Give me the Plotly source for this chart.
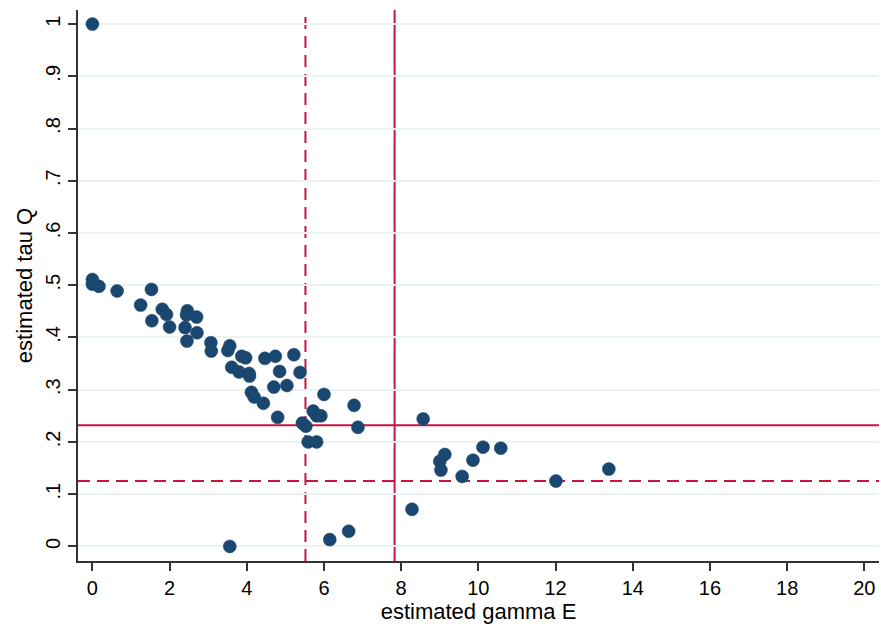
import plotly.graph_objects as go

gamma_e = [0.0, 0.0, 0.0, 0.17, 0.64, 1.25, 1.53, 1.54, 1.81, 1.92, 2.0, 2.46, 2.44,
           2.70, 2.40, 2.71, 2.45, 3.07, 3.08, 3.56, 3.51, 3.87, 3.97, 4.47, 4.74,
           5.22, 3.61, 3.80, 4.06, 4.07, 4.85, 5.38, 4.70, 5.04, 4.12, 4.19, 4.43,
           4.80, 5.44, 5.53, 5.59, 5.81, 5.72, 5.81, 5.92, 6.00, 6.78, 6.88, 8.57,
           8.28, 6.64, 6.15, 3.56, 9.00, 9.03, 9.13, 9.58, 9.86, 10.12, 10.58,
           12.01, 13.38]
tau_q = [1.0, 0.511, 0.502, 0.498, 0.489, 0.462, 0.492, 0.432, 0.454, 0.444, 0.420,
         0.451, 0.443, 0.439, 0.419, 0.409, 0.393, 0.390, 0.374, 0.384, 0.375, 0.364,
         0.361, 0.360, 0.364, 0.367, 0.343, 0.334, 0.331, 0.326, 0.335, 0.333, 0.305,
         0.308, 0.295, 0.286, 0.274, 0.247, 0.236, 0.230, 0.200, 0.200, 0.259, 0.250,
         0.250, 0.291, 0.270, 0.228, 0.244, 0.071, 0.029, 0.013, 0.0, 0.163, 0.146,
         0.176, 0.134, 0.165, 0.190, 0.188, 0.125, 0.148]

vline_dashed = 5.52
vline_solid = 7.83
hline_solid = 0.232
hline_dashed = 0.125

x_ticks = [0, 2, 4, 6, 8, 10, 12, 14, 16, 18, 20]
y_ticks = [0, 0.1, 0.2, 0.3, 0.4, 0.5, 0.6, 0.7, 0.8, 0.9, 1.0]
y_ticklabels = ["0", ".1", ".2", ".3", ".4", ".5", ".6", ".7", ".8", ".9", "1"]

navy = "#1a476f"
red = "#c8153f"
font = "Liberation Sans, Arial, sans-serif"

fig = go.Figure()
fig.add_trace(go.Scatter(
    x=gamma_e, y=tau_q, mode="markers",
    marker=dict(size=13, color=navy, line=dict(width=0.5, color=navy)),
    hoverinfo="x+y", showlegend=False,
))

dash = "12px,7px"
fig.add_shape(type="line", xref="x", yref="paper", x0=vline_dashed, x1=vline_dashed,
              y0=0, y1=1, line=dict(color=red, width=2, dash=dash), layer="between")
fig.add_shape(type="line", xref="x", yref="paper", x0=vline_solid, x1=vline_solid,
              y0=0, y1=1, line=dict(color=red, width=2), layer="between")
fig.add_shape(type="line", xref="paper", yref="y", x0=0, x1=1, y0=hline_solid,
              y1=hline_solid, line=dict(color=red, width=2), layer="between")
fig.add_shape(type="line", xref="paper", yref="y", x0=0, x1=1, y0=hline_dashed,
              y1=hline_dashed, line=dict(color=red, width=2, dash=dash), layer="between")

fig.update_layout(
    width=881, height=627,
    margin=dict(l=78, r=2, t=10, b=66),
    paper_bgcolor="white", plot_bgcolor="white",
    font=dict(family=font, color="black", size=20),
    xaxis=dict(
        range=[-0.373, 20.38], tickvals=x_ticks, ticks="outside", ticklen=8,
        tickwidth=1.5, tickcolor="#333", showline=True, linecolor="#333", linewidth=1.5,
        showgrid=False, zeroline=False,
        title=dict(text="estimated gamma E", font=dict(size=22), standoff=4),
        tickfont=dict(size=20),
    ),
    yaxis=dict(
        range=[-0.028, 1.027], tickvals=y_ticks, ticktext=y_ticklabels,
        tickangle=-90, ticks="outside", ticklen=8, tickwidth=1.5, tickcolor="#333",
        showline=True, linecolor="#333", linewidth=1.5,
        showgrid=True, gridcolor="#eaf2f3", gridwidth=1.5, zeroline=False,
        title=dict(text="estimated tau Q", font=dict(size=22), standoff=4),
        tickfont=dict(size=20),
    ),
)

fig.write_html("out.html", config={"displayModeBar": False},
               post_script="document.body.style.margin='0';document.body.style.padding='0';")
